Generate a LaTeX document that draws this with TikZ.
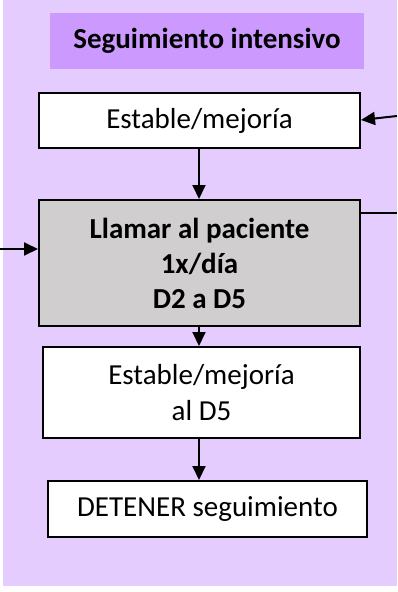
\documentclass[tikz,border=0pt]{standalone}
\usepackage{fontspec}
\setmainfont{Carlito}
\usetikzlibrary{arrows.meta}
\definecolor{bglav}{HTML}{E5CCFF}
\definecolor{titlev}{HTML}{CC99FF}
\definecolor{boxgray}{HTML}{D0CECE}
\tikzset{
  flowbox/.style={draw=black, line width=2pt, fill=white, inner sep=0pt, align=center,
    font=\fontsize{29}{36}\selectfont},
  conn/.style={line width=2pt, -{Triangle[length=14pt,width=13pt]}},
}
\begin{document}
\begin{tikzpicture}[x=1pt,y=-1pt]
\useasboundingbox (0,0) rectangle (397,592);
\fill[bglav] (3,0) rectangle (397,586);
\node[fill=titlev, minimum width=314pt, minimum height=56pt, inner sep=0pt,
  font=\fontsize{29}{35}\selectfont\bfseries] (title) at (207,41) {Seguimiento intensivo};
\node[flowbox, minimum width=321pt, minimum height=55pt] (b1) at (199.5,120.5) {Estable/mejoría};
\node[flowbox, fill=boxgray, minimum width=321pt, minimum height=126pt, font=\fontsize{29}{35}\selectfont\bfseries] (b2) at (199.5,263) {Llamar al paciente\\1x/día\\D2 a D5};
\node[flowbox, minimum width=317pt, minimum height=91pt] (b3) at (201.5,392.5) {Estable/mejoría\\al D5};
\node[flowbox, minimum width=319pt, minimum height=56pt] (b4) at (207.5,509) {DETENER seguimiento};
\coordinate (rin) at (397,116);
\coordinate (rout) at (397,213);
\coordinate (lin) at (0,249);
\draw[conn] (rin) -- (b1.east |- 0,120);
\draw[conn] (b1.south -| 199,0) -- (b2.north -| 199,0);
\draw[line width=2pt] (b2.east |- rout) -- (rout);
\draw[conn] (lin) -- (b2.west |- lin);
\draw[conn] (b2.south -| 199,0) -- (b3.north -| 199,0);
\draw[conn] (b3.south -| 199,0) -- (b4.north -| 199,0);
\end{tikzpicture}
\end{document}
